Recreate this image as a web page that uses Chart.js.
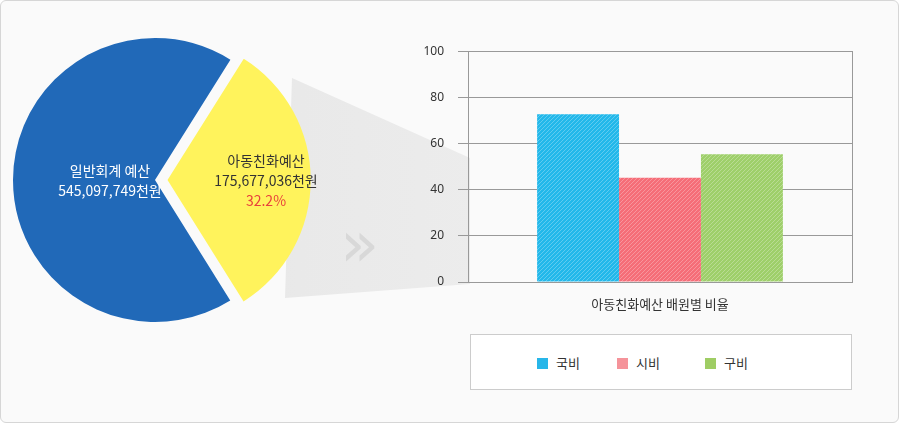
<!DOCTYPE html>
<html><head><meta charset="utf-8">
<script src="https://cdn.jsdelivr.net/npm/chart.js@4"></script>
<style>
body{margin:0;width:899px;height:423px;overflow:hidden;font-family:"Noto Sans CJK KR","Noto Sans",sans-serif;}
#wrap{position:absolute;left:0;top:0;width:897px;height:421px;border:1px solid #d6d6d6;border-radius:6px;background:#fafafa;}
#funnel{position:absolute;left:0;top:0;width:899px;height:423px;background:linear-gradient(90deg,#e4e4e4,#f3f3f3);clip-path:polygon(292px 78px,470px 158px,470px 284px,285px 298px);}
#pieBox{position:absolute;left:-12px;top:13px;width:334px;height:334px;}
#barBox{position:absolute;left:400px;top:30px;width:480px;height:300px;}
.lbl{position:absolute;text-align:center;font-size:14px;line-height:20px;}
#chev{position:absolute;left:340px;top:212px;font-size:64px;line-height:64px;color:#d8d8d8;letter-spacing:-12px;font-family:"DejaVu Sans";}
#legend{position:absolute;left:470px;top:334px;width:380px;height:54px;background:#fff;border:1px solid #ccc;font-size:13px;color:#333;}
#legend span{position:absolute;top:18px;}
#legend i{display:inline-block;width:11px;height:11px;margin-right:8px;vertical-align:-1px;}
</style></head><body>
<div id="wrap"></div>
<div id="funnel"></div>
<div id="chev">»</div>
<div id="pieBox"><canvas id="pie"></canvas></div>
<div class="lbl" style="left:40px;top:160px;width:140px;color:#fff;">일반회계 예산<br>545,097,749천원</div>
<div class="lbl" style="left:196px;top:150px;width:140px;color:#333;">아동친화예산<br>175,677,036천원<br><span style="color:#e8413c">32.2%</span></div>
<div id="barBox"><canvas id="bar"></canvas></div>
<div id="legend"></div>
<script>
const pieLabels = ['일반회계 예산', '아동친화예산'];
const pieValues = [67.8, 32.2];
const pieColors = ['#2169b8', '#fff35c'];

const barCategories = ['아동친화예산 배원별 비율'];
const seriesNames = ['국비', '시비', '구비'];
const seriesValues = [[72.7], [45.2], [55.4]];
const seriesColors = ['#22b8ea', '#f56d78', '#9ecf6a'];
const legendColors = ['#27b6e9', '#f5939a', '#9fcd64'];
const yTicks = [0, 20, 40, 60, 80, 100];

function pattern(color) {
  const c = document.createElement('canvas');
  c.width = 4; c.height = 4;
  const g = c.getContext('2d');
  g.fillStyle = color; g.fillRect(0, 0, 4, 4);
  g.fillStyle = 'rgba(255,255,255,0.28)';
  g.fillRect(0, 0, 1, 1); g.fillRect(2, 2, 1, 1);
  g.fillRect(1, 3, 1, 1); g.fillRect(3, 1, 1, 1);
  return g.createPattern(c, 'repeat');
}

new Chart(document.getElementById('pie'), {
  type: 'pie',
  data: { labels: pieLabels, datasets: [{ data: pieValues, backgroundColor: pieColors, borderWidth: 0, offset: [0, 50] }] },
  options: { responsive: true, maintainAspectRatio: false, animation: false, rotation: 148,
    plugins: { legend: { display: false }, tooltip: { enabled: false } } }
});

const frame = {
  id: 'frame',
  afterDatasetsDraw(chart) {
    const a = chart.chartArea, ctx = chart.ctx;
    ctx.save(); ctx.strokeStyle = '#999'; ctx.lineWidth = 1;
    ctx.strokeRect(Math.round(a.left) + 0.5, Math.round(a.top) + 0.5, Math.round(a.right - a.left), Math.round(a.bottom - a.top));
    ctx.restore();
  }
};

new Chart(document.getElementById('bar'), {
  type: 'bar',
  data: { labels: barCategories,
    datasets: seriesNames.map((n, i) => ({ label: n, data: seriesValues[i], backgroundColor: pattern(seriesColors[i]),
      categoryPercentage: 0.64, barPercentage: 1 })) },
  options: { responsive: true, maintainAspectRatio: false, animation: false,
    layout: { padding: { top: 14, right: 28 } },
    plugins: { legend: { display: false }, tooltip: { enabled: false } },
    scales: {
      y: { min: 0, max: 100, afterBuildTicks: s => { s.ticks = yTicks.map(v => ({ value: v })); },
        afterFit: s => { s.width = 68; },
        grid: { color: '#999', tickLength: 10 }, border: { display: false },
        ticks: { color: '#333', font: { size: 12, family: 'Noto Sans' }, padding: 14 } },
      x: { grid: { display: false }, border: { display: false },
        afterFit: s => { s.height = 48; },
        ticks: { color: '#333', font: { size: 13, family: 'Noto Sans CJK KR' }, padding: 6 } }
    } },
  plugins: [frame]
});

const lg = document.getElementById('legend');
[66, 146, 234].forEach((x, i) => {
  lg.insertAdjacentHTML('beforeend', `<span style="left:${x}px"><i style="background:${legendColors[i]}"></i>${seriesNames[i]}</span>`);
});
</script>
</body></html>
